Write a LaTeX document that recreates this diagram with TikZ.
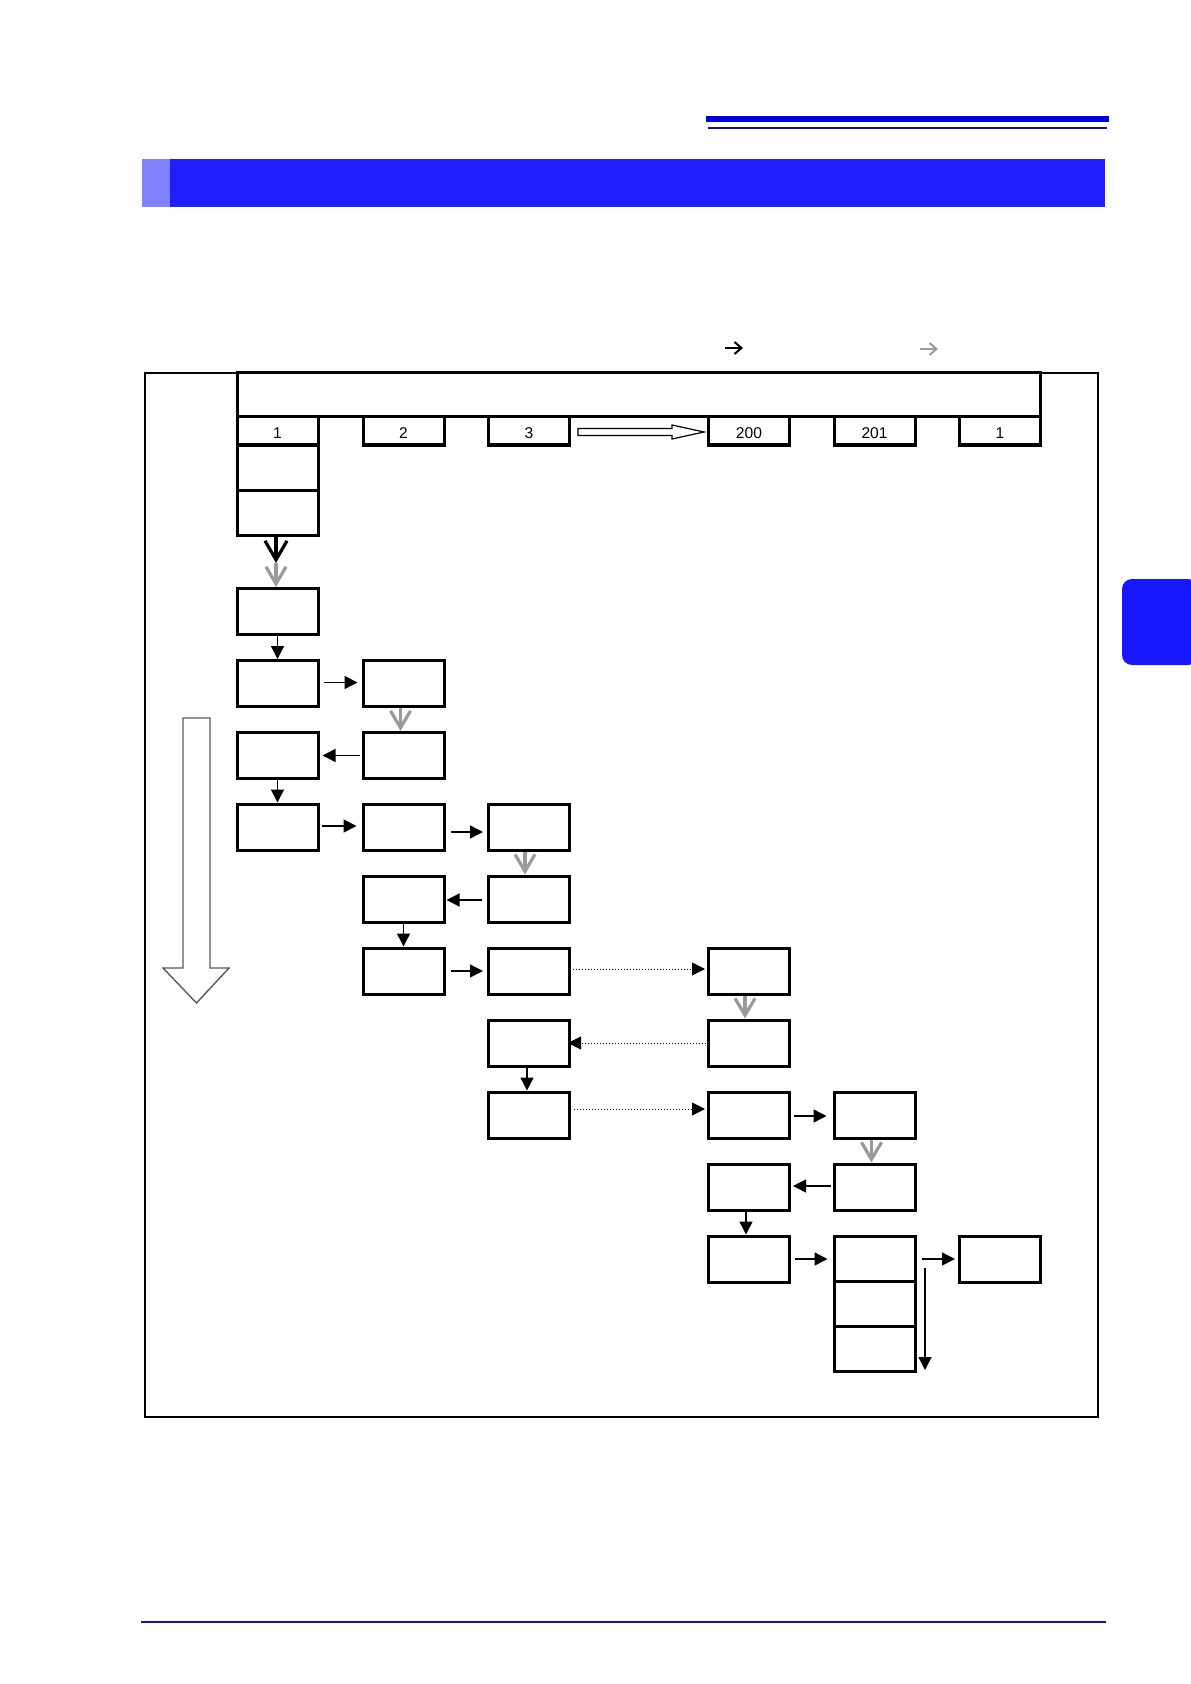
\documentclass[tikz,border=0pt]{standalone}
\usepackage{fontspec}
\setmainfont{Liberation Sans}
\usetikzlibrary{arrows.meta}
\definecolor{barblue}{HTML}{1E1EFF}
\definecolor{barlight}{HTML}{8282FF}
\definecolor{topblue}{HTML}{0000E6}
\definecolor{lineblue}{HTML}{1010B4}
\definecolor{tabblue}{HTML}{1616FF}
\definecolor{chev}{HTML}{9A9A9A}
\tikzset{
  fbox/.style={draw, line width=1.5pt, minimum width=40.5pt, minimum height=23pt, inner sep=0pt, fill=white},
  cellbox/.style={draw, line width=1.5pt, minimum width=40.5pt, minimum height=14pt, inner sep=0pt},
  celltext/.style={font=\fontsize{7.8}{8}\selectfont, inner sep=0pt, anchor=base},
  stackbox/.style={draw, line width=1.5pt, minimum width=40.5pt, minimum height=22.5pt, inner sep=0pt},
  flow/.style={line width=0.7pt, -{Triangle[length=6.5pt,width=6.5pt]}},
  dflow/.style={line width=0.5pt, densely dotted, -{Triangle[length=6.5pt,width=6.5pt]}},
  grayv/.style={chev, line width=1.6pt, -{Straight Barb[length=8.5pt,width=10pt,line width=1.6pt]}},
  blackv/.style={black, line width=1.6pt, -{Straight Barb[length=9.5pt,width=11pt,line width=1.6pt]}},
  legb/.style={line width=1pt, -{Straight Barb[length=3.5pt,width=6pt,line width=1pt]}},
}
\begin{document}
\begin{tikzpicture}[x=0.5pt,y=-0.5pt]
\useasboundingbox (0,0) rectangle (1190,1684);
% page decorations
\fill[topblue] (706,116) rectangle (1109,122);
\fill[lineblue] (708,127) rectangle (1107,129.5);
\fill[barblue] (170,159) rectangle (1105,207);
\fill[barlight] (142,159) rectangle (170,207);
\fill[tabblue, rounded corners=5pt] (1122,579) -- (1198,579) -- (1198,665) -- (1122,665) -- cycle;
\fill[lineblue] (141,1620.5) rectangle (1106,1623);
% legend
\coordinate (lb1) at (725,348); \coordinate (lb2) at (743,348);
\coordinate (lg1) at (920,349); \coordinate (lg2) at (938,349);
\draw[legb] (lb1) -- (lb2);
\draw[legb, chev] (lg1) -- (lg2);
% outer frame and header
\draw[line width=1.3pt] (145,373) rectangle (1098,1417);
\draw[line width=1.5pt] (237,373) rectangle (1040,417);
% cells
\node[cellbox] (c1) at (277.5,431) {};
\node[cellbox] (c2) at (403.5,431) {};
\node[cellbox] (c3) at (529,431) {};
\node[cellbox] (c200) at (749,431) {};
\node[cellbox] (c201) at (874.5,431) {};
\node[cellbox] (c1b) at (1000,431) {};
\node[celltext] (t1) at ([yshift=-3.7pt]c1.center) {1};
\node[celltext] (t2) at ([yshift=-3.7pt]c2.center) {2};
\node[celltext] (t3) at ([yshift=-3.7pt]c3.center) {3};
\node[celltext] (t200) at ([yshift=-3.7pt]c200.center) {200};
\node[celltext] (t201) at ([yshift=-3.7pt]c201.center) {201};
\node[celltext] (t1b) at ([yshift=-3.7pt]c1b.center) {1};
\node[stackbox] (s2) at (277.5,467.5) {};
\node[stackbox] (s3) at (277.5,512.5) {};
% hollow right arrow
\draw[line width=0.6pt, fill=white] (578,428.5) -- (672,428.5) -- (672,425) -- (704,432) -- (672,439) -- (672,435.5) -- (578,435.5) -- cycle;
% big hollow down arrow
\draw[line width=0.7pt, draw=black!65, fill=white] (183,718) -- (210,718) -- (210,968) -- (229,968) -- (196.5,1003) -- (163,968) -- (183,968) -- cycle;
% flow boxes
\node[fbox] (a1) at (277.5,611.5) {};
\node[fbox] (b1) at (277.5,683.5) {};
\node[fbox] (b2) at (403.5,683.5) {};
\node[fbox] (r1) at (277.5,755.5) {};
\node[fbox] (r2) at (403.5,755.5) {};
\node[fbox] (d1) at (277.5,827) {};
\node[fbox] (d2) at (403.5,827) {};
\node[fbox] (d3) at (529,827) {};
\node[fbox] (e2) at (403.5,899) {};
\node[fbox] (e3) at (529,899) {};
\node[fbox] (f2) at (403.5,971) {};
\node[fbox] (f3) at (529,971) {};
\node[fbox] (f4) at (749,971) {};
\node[fbox] (g3) at (529,1043) {};
\node[fbox] (g4) at (749,1043) {};
\node[fbox] (h3) at (529,1115) {};
\node[fbox] (h4) at (749,1115) {};
\node[fbox] (h5) at (874.5,1115) {};
\node[fbox] (i4) at (749,1187) {};
\node[fbox] (i5) at (874.5,1187) {};
\node[fbox] (j4) at (749,1259) {};
\node[stackbox] (j5a) at (874.5,1259) {};
\node[stackbox] (j5b) at (874.5,1304) {};
\node[stackbox] (j5c) at (874.5,1349) {};
\node[fbox] (j6) at (1000,1259) {};
% connectors
\coordinate (mid) at (276,563);
\draw[blackv] (s3.south -| mid) -- (mid);
\draw[grayv] (mid) -- (a1.north -| mid);
\draw[flow] (a1) -- (b1);
\draw[flow, shorten <=2pt, shorten >=2pt] ([yshift=0.5pt]b1.east) -- ([yshift=0.5pt]b2.west);
\draw[grayv] ([xshift=-1.5pt]b2.south) -- ([xshift=-1.5pt]r2.north);
\draw[flow, shorten <=1pt, shorten >=1.5pt] (r2.west) -- (r1.east);
\draw[flow] (r1) -- (d1);
\draw[flow, shorten <=1pt, shorten >=2.5pt] ([yshift=0.5pt]d1.east) -- ([yshift=0.5pt]d2.west);
\draw[flow, shorten <=2.5pt, shorten >=2pt] ([yshift=-2.5pt]d2.east) -- ([yshift=-2.5pt]d3.west);
\draw[grayv] ([xshift=-2pt]d3.south) -- ([xshift=-2pt]e3.north);
\draw[flow, shorten <=2.5pt, shorten >=0.5pt] ([yshift=-0.5pt]e3.west) -- ([yshift=-0.5pt]e2.east);
\draw[flow] (e2) -- (f2);
\draw[flow, shorten <=2.5pt, shorten >=2pt] (f2.east) -- (f3.west);
\draw[dflow, shorten <=1pt, shorten >=1pt] ([yshift=1pt]f3.east) -- ([yshift=1pt]f4.west);
\draw[grayv] ([xshift=-2pt]f4.south) -- ([xshift=-2pt]g4.north);
\draw[dflow, shorten <=-1pt, shorten >=-1.5pt] (g4.west) -- (g3.east);
\draw[flow] ([xshift=-1pt]g3.south) -- ([xshift=-1pt]h3.north);
\draw[dflow, shorten <=1.5pt, shorten >=1pt] ([yshift=3pt]h3.east) -- ([yshift=3pt]h4.west);
\draw[flow, shorten <=1.5pt, shorten >=3pt] ([yshift=-0.5pt]h4.east) -- ([yshift=-0.5pt]h5.west);
\draw[grayv] ([xshift=-1.5pt]h5.south) -- ([xshift=-1.5pt]i5.north);
\draw[flow, shorten <=1pt, shorten >=1pt] ([yshift=0.5pt]i5.west) -- ([yshift=0.5pt]i4.east);
\draw[flow] ([xshift=-1.5pt]i4.south) -- ([xshift=-1.5pt]j4.north);
\draw[flow, shorten <=2pt, shorten >=2.5pt] (j4.east) -- (j5a.west);
\draw[flow, shorten <=2.5pt, shorten >=1.5pt] (j5a.east) -- (j6.west);
\coordinate (vt) at (925,1268);
\coordinate (vb) at (925,1370);
\draw[flow] (vt) -- (vb);
\end{tikzpicture}
\end{document}
